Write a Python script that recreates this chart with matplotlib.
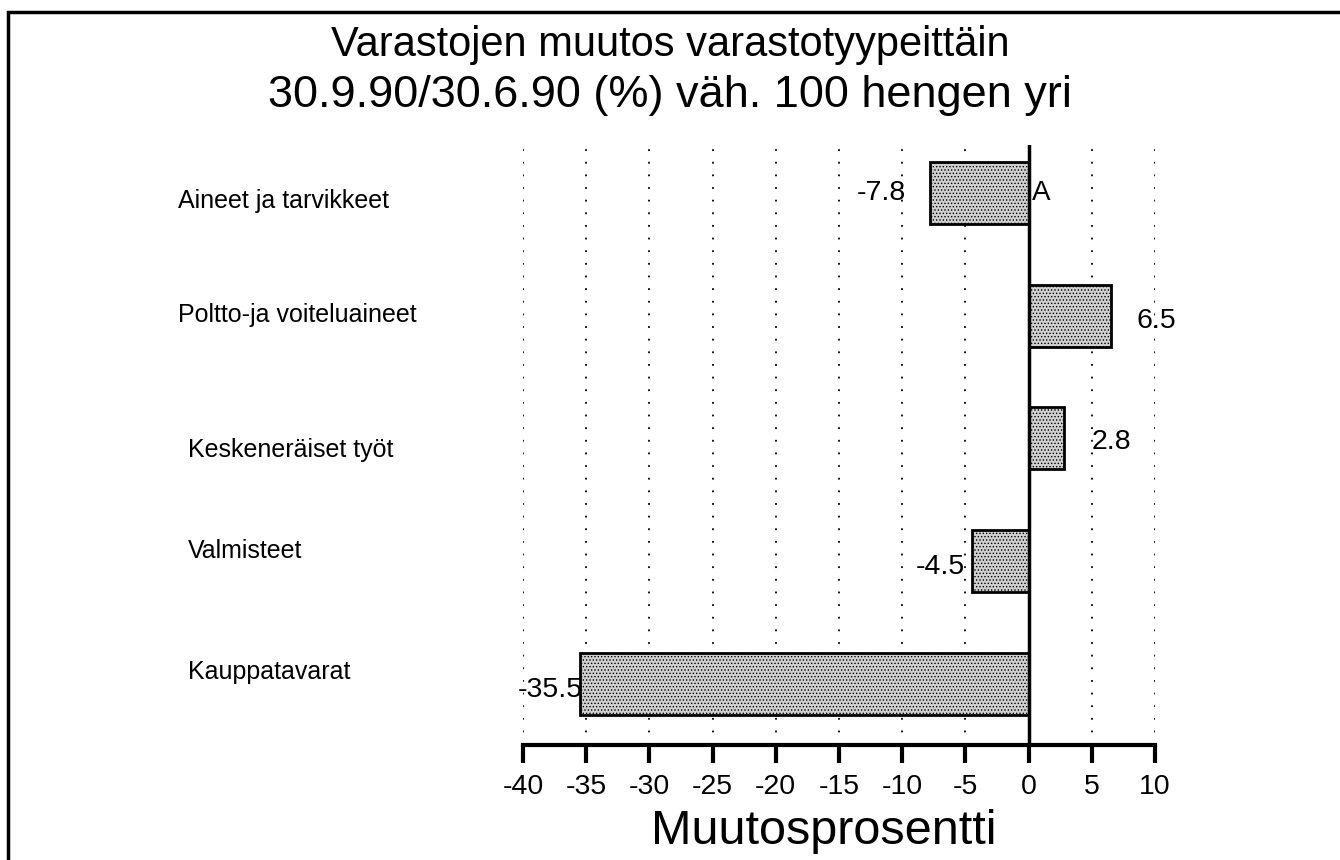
import matplotlib.pyplot as plt
from matplotlib.patches import Rectangle

# Data
categories = ["Aineet ja tarvikkeet", "Poltto-ja voiteluaineet", "Keskeneräiset työt",
              "Valmisteet", "Kauppatavarat"]
values = [-7.8, 6.5, 2.8, -4.5, -35.5]
value_labels = ["-7.8", "6.5", "2.8", "-4.5", "-35.5"]
xticks = [-40, -35, -30, -25, -20, -15, -10, -5, 0, 5, 10]

plt.rcParams['font.family'] = ['Liberation Sans', 'DejaVu Sans']
plt.rcParams['hatch.linewidth'] = 0.6

W, H = 1340, 860
fig = plt.figure(figsize=(W / 100, H / 100), dpi=100)

# outer frame (only top and left edges visible)
fig.patches.append(Rectangle((8 / W, -0.05), 1.1, 1 - 12 / H + 0.05, transform=fig.transFigure,
                             fill=False, lw=2.5, ec='black'))

ax = fig.add_axes([523 / W, 1 - 745 / H, (1155 - 523) / W, 600 / H])
ypos = list(range(len(categories)))

ax.barh(ypos, values, height=0.505, color='#d0d0d0', edgecolor='black', lw=2,
        hatch='.....', zorder=3)

ax.set_xlim(-40, 10)
ax.set_ylim(4.497, -0.39)

# dotted grid lines
for x in xticks:
    if x != 0:
        ax.axvline(x, color='black', lw=1.3, ls=(0, (1, 6)), zorder=1)
ax.axvline(0, color='black', lw=2.5, zorder=4)

for s in ['top', 'right', 'left']:
    ax.spines[s].set_visible(False)
ax.spines['bottom'].set_linewidth(3)
ax.set_yticks([])
ax.set_xticks(xticks)
ax.set_xticklabels([str(t) for t in xticks], fontsize=20.5)
ax.tick_params(axis='x', direction='out', length=13, width=3, pad=8)

# value labels (gap from bar end in data units, vertical nudge)
label_gap = [1.9, 2.0, 2.2, 0.5, -0.25]
label_dy = [0.0, 0.04, 0.03, 0.05, 0.05]
for y, v, lab, g, dy in zip(ypos, values, value_labels, label_gap, label_dy):
    if v < 0:
        ax.text(v - g, y + dy, lab, ha='right', va='center', fontsize=20.5)
    else:
        ax.text(v + g, y + dy, lab, ha='left', va='center', fontsize=20.5)
ax.text(0.3, 0.0, "A", ha='left', va='center', fontsize=20)

# category labels
label_x = [178, 178, 188, 188, 188]
label_y = [201, 315, 450, 551, 672]
for name, lx, ly in zip(categories, label_x, label_y):
    fig.text(lx / W, 1 - ly / H, name, ha='left', va='center', fontsize=18)

fig.text(0.5, 1 - 45 / H, "Varastojen muutos varastotyypeittäin", ha='center', va='center',
         fontsize=30)
fig.text(0.5, 1 - 95 / H, "30.9.90/30.6.90 (%) väh. 100 hengen yri", ha='center', va='center',
         fontsize=32.5)
fig.text(824 / W, 1 - 832 / H, "Muutosprosentti", ha='center', va='center', fontsize=35)

fig.savefig("out.png", dpi=100)
